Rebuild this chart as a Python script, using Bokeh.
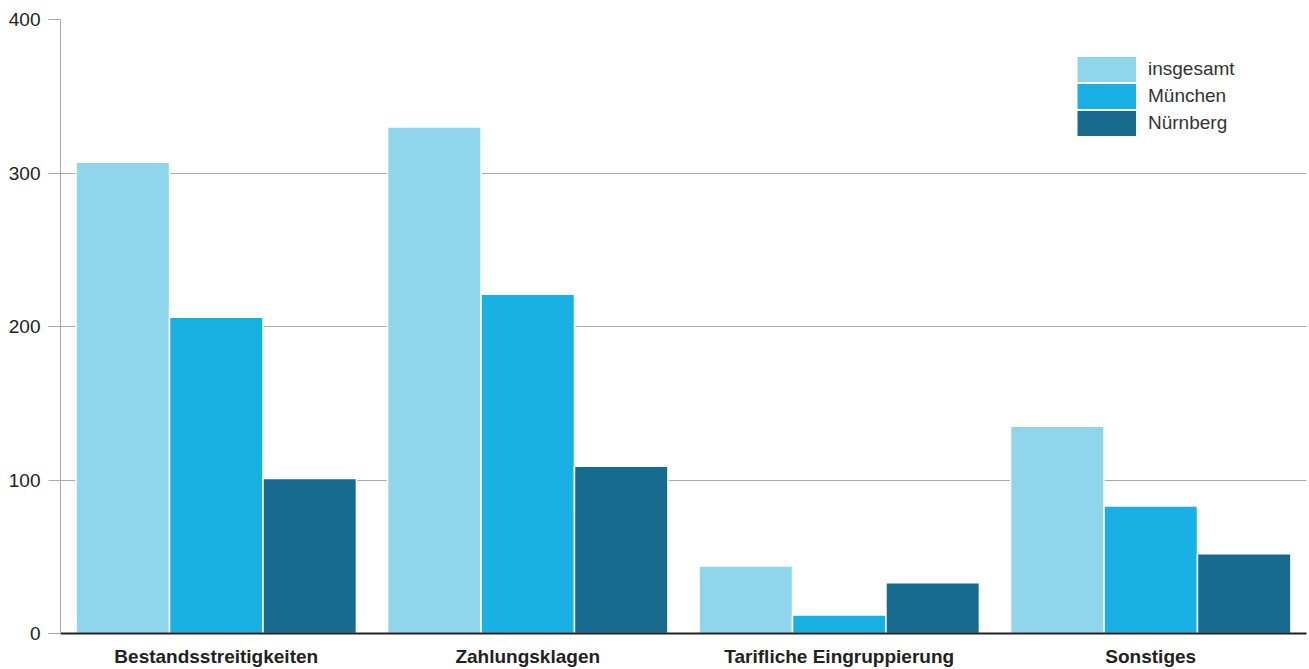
from bokeh.plotting import figure
from bokeh.models import ColumnDataSource, FactorRange, Legend, LegendItem, FixedTicker, Range1d
from bokeh.transform import dodge
from bokeh.embed import file_html
from bokeh.resources import INLINE

categories = ["Bestandsstreitigkeiten", "Zahlungsklagen", "Tarifliche Eingruppierung", "Sonstiges"]
series_names = ["insgesamt", "München", "Nürnberg"]
insgesamt = [307, 330, 44, 135]
muenchen = [206, 221, 12, 83]
nuernberg = [101, 109, 33, 52]
y_ticks = [0, 100, 200, 300, 400]

colors = ["#8FD6EC", "#19B1E3", "#166B8E"]

source = ColumnDataSource(data=dict(cat=categories, insgesamt=insgesamt,
                                    muenchen=muenchen, nuernberg=nuernberg))

FONT = "Liberation Sans"

p = figure(x_range=FactorRange(*categories), y_range=Range1d(0, 400),
           frame_width=1246, frame_height=614,
           min_border_left=60, min_border_top=19, min_border_right=2, min_border_bottom=34,
           output_backend="svg", toolbar_location=None)

cols = ["insgesamt", "muenchen", "nuernberg"]
offsets = [-0.3, 0.0, 0.3]
legend_renderers = []
for col, off, c in zip(cols, offsets, colors):
    p.vbar(x=dodge("cat", off, range=p.x_range), top=col, width=0.3, source=source,
           fill_color=c, line_color="white", line_width=1.5)
    # legend swatch only (nothing visible in the plot): thick butt-capped line = solid box
    lr = p.line(x=[categories[0], categories[0]], y=[float("nan"), float("nan")],
                line_color=c, line_width=25, line_cap="butt")
    legend_renderers.append(lr)

p.x_range.range_padding = 0
p.outline_line_color = None

p.xgrid.grid_line_color = None
p.ygrid.grid_line_color = "#aaaaaa"
p.ygrid.grid_line_width = 1

p.yaxis.ticker = FixedTicker(ticks=y_ticks)
p.yaxis.axis_line_color = "#aaaaaa"
p.yaxis.major_tick_line_color = "#aaaaaa"
p.yaxis.major_tick_out = 12
p.yaxis.major_tick_in = 0
p.yaxis.minor_tick_line_color = None
p.yaxis.major_label_text_font = FONT
p.yaxis.major_label_text_font_size = "19px"
p.yaxis.major_label_text_color = "#222222"
p.yaxis.major_label_standoff = 8

p.xaxis.axis_line_color = "#222222"
p.xaxis.axis_line_width = 2
p.xaxis.major_tick_line_color = None
p.xaxis.minor_tick_line_color = None
p.xaxis.major_label_text_font = FONT
p.xaxis.major_label_text_font_size = "19px"
p.xaxis.major_label_text_font_style = "bold"
p.xaxis.major_label_text_color = "#222222"
p.xaxis.major_label_standoff = 6

legend = Legend(items=[LegendItem(label=n, renderers=[r]) for n, r in zip(series_names, legend_renderers)],
                location=(1017, 497), orientation="vertical",
                glyph_width=59, glyph_height=26, spacing=1, padding=0, margin=0,
                label_text_font=FONT, label_text_font_size="19px", label_text_color="#333333",
                label_height=26,
                label_standoff=12, background_fill_alpha=0, border_line_color=None)
p.add_layout(legend)

open("out.html", "w").write(file_html(p, INLINE))
